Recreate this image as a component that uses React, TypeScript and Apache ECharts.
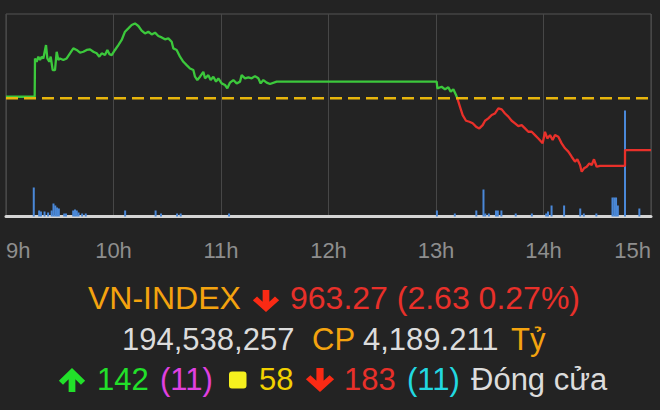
import React, { useEffect, useRef } from "react";
import * as echarts from "echarts";

// ---------- data ----------
const REF_PRICE = 965.9;
const CLOSE_PRICE = 963.27;
const HOUR_TICKS = [9, 10, 11, 12, 13, 14, 15];

const priceTimes = [
  "09:00:00", "09:16:00", "09:16:11", "09:17:07", "09:18:03", "09:18:59", "09:19:55", "09:20:50",
  "09:22:20", "09:23:04", "09:24:11", "09:24:56", "09:26:03", "09:27:21", "09:28:17", "09:29:13",
  "09:30:08", "09:32:00", "09:33:52", "09:35:43", "09:37:35", "09:39:26", "09:41:18", "09:43:10",
  "09:45:01", "09:46:53", "09:48:45", "09:50:36", "09:52:05", "09:53:24", "09:55:15", "09:56:34",
  "09:57:41", "09:58:59", "10:00:50", "10:02:42", "10:04:34", "10:06:25", "10:08:17", "10:10:08",
  "10:12:00", "10:13:52", "10:15:43", "10:17:35", "10:19:26", "10:21:18", "10:23:10", "10:25:01",
  "10:26:53", "10:28:45", "10:30:36", "10:32:28", "10:33:24", "10:35:15", "10:37:07", "10:38:59",
  "10:40:50", "10:42:42", "10:44:34", "10:45:29", "10:46:47", "10:48:17", "10:50:08", "10:51:04",
  "10:52:56", "10:54:14", "10:55:43", "10:57:13", "10:58:31", "11:00:22", "11:02:14", "11:03:32",
  "11:05:02", "11:06:53", "11:08:45", "11:10:37", "11:11:32", "11:13:24", "11:15:16", "11:17:07",
  "11:18:59", "11:20:50", "11:22:08", "11:23:38", "11:25:29", "11:27:21", "11:31:04", "13:00:23",
  "13:00:45", "13:03:10", "13:05:02", "13:06:53", "13:08:11", "13:09:41", "13:11:10", "13:11:55",
  "13:13:24", "13:14:53", "13:16:45", "13:18:37", "13:20:28", "13:22:20", "13:24:11", "13:26:03",
  "13:27:22", "13:29:13", "13:31:05", "13:32:56", "13:34:48", "13:36:40", "13:38:31", "13:40:23",
  "13:42:14", "13:44:06", "13:45:58", "13:47:49", "13:49:41", "13:51:32", "13:53:24", "13:55:16",
  "13:57:07", "13:59:32", "14:00:50", "14:02:08", "14:03:38", "14:05:07", "14:06:25", "14:08:17",
  "14:10:08", "14:12:00", "14:13:52", "14:15:43", "14:17:35", "14:18:53", "14:20:23", "14:21:19",
  "14:22:37", "14:24:06", "14:25:35", "14:26:53", "14:28:11", "14:29:41", "14:31:32", "14:45:29",
  "14:45:30", "15:00:00",
];

const priceValues = [
  965.98, 965.98, 967.93, 967.76, 968.02, 967.85, 968.02, 967.93,
  968.61, 967.93, 967.76, 968.02, 967.34, 967.34, 968.27, 967.85,
  967.93, 967.85, 967.93, 968.19, 968.44, 968.36, 968.22, 968.27,
  968.36, 968.39, 968.27, 968.19, 968.02, 968.19, 968.1, 968.36,
  968.15, 968.1, 968.36, 968.61, 968.87, 969.29, 969.46, 969.63,
  969.71, 969.58, 969.34, 969.2, 969.29, 969.15, 969.24, 969.07,
  969.0, 968.9, 968.95, 968.78, 968.44, 968.36, 968.02, 967.76,
  967.59, 967.42, 967.34, 967.0, 966.83, 967.0, 967.25, 966.92,
  967.08, 966.83, 967.0, 966.75, 966.92, 966.66, 966.58, 966.41,
  966.7, 966.83, 966.66, 966.75, 967.08, 966.92, 966.97, 966.92,
  967.03, 966.92, 966.66, 966.83, 966.7, 966.63, 966.75, 966.75,
  966.41, 966.49, 966.36, 966.46, 966.24, 966.36, 966.07, 965.9,
  965.47, 965.05, 964.76, 964.71, 964.63, 964.46, 964.37, 964.54,
  964.76, 964.88, 965.05, 965.13, 965.39, 965.34, 965.13, 964.97,
  964.76, 964.63, 964.49, 964.54, 964.37, 964.2, 964.2, 964.03,
  963.86, 963.61, 964.2, 963.86, 964.03, 963.78, 964.03, 963.95,
  963.61, 963.36, 963.19, 962.93, 962.68, 962.8, 962.51, 962.17,
  962.34, 962.42, 962.59, 962.51, 962.8, 962.42, 962.47, 962.47,
  963.27, 963.27,
];

// per-minute matched volume, million shares (estimated)
const volumeTimes = [
  "09:15", "09:18", "09:19", "09:21", "09:23", "09:25", "09:26", "09:27", "09:28", "09:29",
  "09:32", "09:33", "09:37", "09:38", "09:39", "09:40", "09:42", "09:44", "10:06", "10:23",
  "10:26", "10:35", "10:37", "11:04", "13:00", "13:10", "13:22", "13:26", "13:27", "13:29",
  "13:33", "13:34", "13:36", "13:44", "13:53", "14:01", "14:02", "14:04", "14:11", "14:20",
  "14:22", "14:29", "14:38", "14:39", "14:40", "14:41", "14:45", "14:53",
];
const volumeValues = [
  2.9, 0.6, 0.5, 0.5, 0.4, 0.6, 1.3, 1.1, 0.9, 0.8,
  0.3, 0.3, 0.6, 0.7, 0.6, 0.4, 0.3, 0.3, 0.6, 0.6,
  0.3, 0.3, 0.3, 0.3, 0.6, 0.3, 0.6, 2.7, 0.3, 0.3,
  0.6, 0.6, 0.6, 0.3, 0.3, 0.3, 0.5, 1.1, 1.1, 0.8,
  0.3, 0.3, 1.9, 1.9, 1.9, 1.1, 10.6, 0.8,
];

const TOTAL_VOLUME = "194,538,257";
const TOTAL_VALUE = "4,189.211";
const ADVANCERS = 142;
const CEILING = 11;
const UNCHANGED = 58;
const DECLINERS = 183;
const FLOOR = 11;
const STATUS = "Đóng cửa";

// ---------- helpers ----------
const toMinutes = (s: string) => {
  const p = s.split(":").map(Number);
  return p[0] * 60 + p[1] + (p[2] || 0) / 60;
};

const C = {
  bg: "#232323",
  green: "#3cc83c",
  red: "#e8302a",
  ref: "#e7b50c",
  vol: "#4a88d8",
  orange: "#f4a30f",
  white: "#dcdcdc",
  brightGreen: "#22e02a",
  magenta: "#e040e0",
  gold: "#f2d000",
  lemon: "#f5f01e",
  cyan: "#22d8e0",
  arrowRed: "#fa2a14",
};

const FONT = "Liberation Sans";

const arrowShape = [
  [0.5, 1], [0.97, 0.47], [0.82, 0.3], [0.62, 0.53], [0.62, 0], [0.38, 0],
  [0.38, 0.53], [0.18, 0.3], [0.03, 0.47],
];

const arrow = (x: number, y: number, w: number, h: number, up: boolean, color: string) => ({
  type: "polygon",
  silent: true,
  shape: {
    points: arrowShape.map(([px, py]) => [x + px * w, y + (up ? 1 - py : py) * h]),
  },
  style: { fill: color },
});

const txt = (text: string, x: number, y: number, color: string, size = 31) => ({
  type: "text",
  x,
  y,
  silent: true,
  style: {
    text,
    fill: color,
    fontSize: size,
    fontFamily: FONT,
    textAlign: "left",
    textVerticalAlign: "middle",
  },
});

// split the price path into segments above / below the reference price
function splitByReference(points: number[][]) {
  const segs: { up: boolean; data: number[][] }[] = [];
  let up = points[0][1] >= REF_PRICE;
  let cur: number[][] = [points[0]];
  for (let i = 1; i < points.length; i++) {
    const [t, v] = points[i];
    const s = v > REF_PRICE ? true : v < REF_PRICE ? false : up;
    if (s !== up) {
      const [t0, v0] = points[i - 1];
      const tc = t0 + ((REF_PRICE - v0) / (v - v0)) * (t - t0);
      cur.push([tc, REF_PRICE]);
      segs.push({ up, data: cur });
      cur = [[tc, REF_PRICE]];
      up = s;
    }
    cur.push(points[i]);
  }
  segs.push({ up, data: cur });
  return segs;
}

export default function App() {
  const ref = useRef<HTMLDivElement>(null);

  useEffect(() => {
    if (!ref.current) return;
    const chart = echarts.init(ref.current, null, { renderer: "svg" });

    const change = (REF_PRICE - CLOSE_PRICE).toFixed(2);
    const pct = (((REF_PRICE - CLOSE_PRICE) / REF_PRICE) * 100).toFixed(2);

    const priceData = priceTimes.map((t, i) => [toMinutes(t), priceValues[i]]);
    const volumeData = volumeTimes.map((t, i) => [toMinutes(t) + 0.5, volumeValues[i]]);
    const segments = splitByReference(priceData);

    const xMin = HOUR_TICKS[0] * 60;
    const xMax = HOUR_TICKS[HOUR_TICKS.length - 1] * 60;

    const option: any = {
      animation: false,
      backgroundColor: C.bg,
      grid: {
        left: 6,
        right: 9,
        top: 14,
        bottom: 193.5,
        containLabel: false,
        outerBoundsMode: "none",
        show: true,
        borderColor: "#555",
        borderWidth: 1,
        backgroundColor: "transparent",
      },
      xAxis: {
        type: "value",
        min: xMin,
        max: xMax,
        interval: 60,
        axisLine: { show: true, onZero: false, lineStyle: { color: "#d4d4d4", width: 3 } },
        axisTick: { show: false },
        splitLine: { show: true, lineStyle: { color: "#474747", width: 1 } },
        axisLabel: {
          show: true,
          formatter: (v: number) => `${Math.round(v / 60)}h`,
          color: "#8e8e8e",
          fontSize: 22,
          fontFamily: FONT,
          margin: 23,
          showMinLabel: true,
          showMaxLabel: true,
          alignMinLabel: "left",
          alignMaxLabel: "right",
          hideOverlap: false,
        },
      },
      yAxis: [
        { type: "value", min: 959.89, max: 970.19, show: false, splitLine: { show: false } },
        { type: "value", min: 0, max: 20.25, show: false, splitLine: { show: false } },
      ],
      series: [
        {
          type: "bar",
          yAxisIndex: 1,
          data: volumeData,
          barWidth: 2,
          itemStyle: { color: C.vol },
          silent: true,
          z: 1,
        },
        ...segments.map((s) => ({
          type: "line",
          yAxisIndex: 0,
          data: s.data,
          symbol: "none",
          lineStyle: { width: 2.3, color: s.up ? C.green : C.red },
          silent: true,
          z: 3,
        })),
        {
          type: "line",
          yAxisIndex: 0,
          data: [
            [xMin, REF_PRICE],
            [xMax, REF_PRICE],
          ],
          symbol: "none",
          lineStyle: { color: C.ref, width: 2.5, type: [12, 6] },
          silent: true,
          z: 4,
        },
      ],
      graphic: [
        // line 1
        txt("VN-INDEX", 88, 298, C.orange, 32),
        arrow(252, 290, 28, 22, false, C.arrowRed),
        txt(`${CLOSE_PRICE.toFixed(2)} (${change} ${pct}%)`, 290, 298, C.red, 32),
        // line 2
        txt(TOTAL_VOLUME, 122, 339, C.white),
        txt("CP", 312, 339, C.orange),
        txt(TOTAL_VALUE, 363, 339, C.white),
        txt("Tỷ", 511, 339, C.orange),
        // line 3
        arrow(58, 368, 28, 24, true, C.brightGreen),
        txt(String(ADVANCERS), 97, 379, C.brightGreen),
        txt(`(${CEILING})`, 160, 379, C.magenta),
        {
          type: "rect",
          silent: true,
          shape: { x: 229, y: 371.5, width: 17.5, height: 17, r: 3 },
          style: { fill: C.lemon },
        },
        txt(String(UNCHANGED), 259, 379, C.gold),
        arrow(305, 368, 30, 24, false, C.arrowRed),
        txt(String(DECLINERS), 344, 379, C.red),
        txt(`(${FLOOR})`, 407, 379, C.cyan),
        txt(STATUS, 471, 379, C.white),
      ],
    };

    chart.setOption(option);
    return () => chart.dispose();
  }, []);

  return (
    <div
      ref={ref}
      style={{ position: "fixed", left: 0, top: 0, width: 660, height: 410, background: C.bg }}
    />
  );
}
